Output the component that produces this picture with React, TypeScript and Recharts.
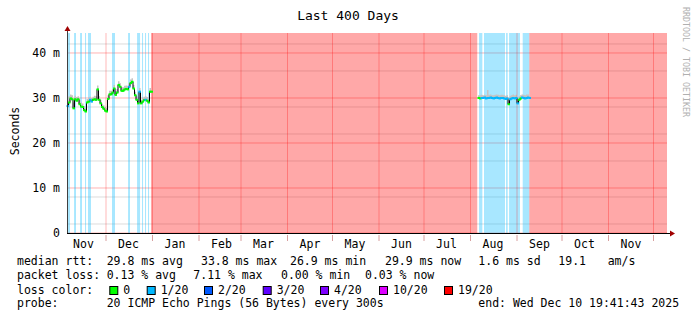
import {
  ComposedChart,
  Line,
  Area,
  XAxis,
  YAxis,
  CartesianGrid,
  ReferenceArea,
  ReferenceLine,
} from "recharts";

const FONT = "'DejaVu Sans Mono', monospace";
const TOTAL_DAYS = 400;
const Y_MAX = 44.44;

// day 0 = Nov 5 2024, end = Dec 10 2025
const monthStarts = [-4, 26, 57, 88, 116, 147, 177, 208, 238, 269, 300, 330, 361, 391];
const monthNames = ["Nov", "Dec", "Jan", "Feb", "Mar", "Apr", "May", "Jun", "Jul", "Aug", "Sep", "Oct", "Nov"];

const yTicks = [0, 10, 20, 30, 40];
const yMinor = [2, 4, 6, 8, 12, 14, 16, 18, 22, 24, 26, 28, 32, 34, 36, 38, 42];

// median rtt (ms), first block starts day 0, second block day 274
const seg1Start = 0;
const seg1Median = [
  28.2, 29.0, 29.9, 29.7, 27.7, 29.7, 29.4, 29.7, 28.6, 28.1,
  28.0, 27.3, 27.0, 29.0, 29.2, 29.6, 29.2, 29.6, 29.7, 29.6,
  31.9, 29.6, 28.8, 28.0, 27.6, 27.2, 27.0, 29.8, 30.8, 30.8,
  31.2, 32.1, 30.7, 31.2, 32.9, 32.5, 31.6, 31.6, 31.9, 32.0,
  31.9, 32.5, 33.3, 33.6, 32.1, 30.6, 29.6, 28.8, 31.4, 28.8,
  29.2, 29.5, 29.6, 29.4, 29.0, 31.4, 31.4,
];
const seg1Smoke = [
  29.6, 30.4, 30.8, 30.6, 29.0, 30.5, 30.2, 30.4, 29.6, 29.0,
  28.8, 28.2, 27.9, 29.8, 30.0, 30.3, 30.0, 30.3, 30.5, 30.4,
  32.8, 30.4, 29.6, 28.8, 28.4, 28.0, 27.8, 30.6, 31.6, 31.6,
  32.0, 32.9, 31.5, 32.0, 33.7, 33.3, 32.4, 32.4, 32.7, 32.8,
  32.7, 33.3, 34.1, 34.4, 32.9, 31.4, 30.4, 29.6, 32.2, 29.6,
  30.0, 30.3, 30.4, 30.2, 29.8, 32.2, 32.0,
];
const seg1Loss = [
  1, 0, 0, 0, 0, 0, 0, 0, 0, 0,
  0, 0, 0, 0, 0, 1, 1, 0, 0, 0,
  0, 0, 0, 0, 0, 0, 0, 0, 0, 0,
  0, 0, 0, 0, 0, 0, 0, 0, 0, 0,
  0, 1, 0, 0, 0, 0, 0, 0, 1, 0,
  0, 0, 1, 0, 0, 0, 0,
];

const seg2Start = 274;
const seg2Median = [
  30.0, 29.9, 30.0, 30.0, 30.1, 29.9, 30.0, 30.0, 30.1, 30.0,
  29.9, 30.0, 30.1, 30.0, 29.9, 30.0, 30.0, 29.9, 29.8, 29.9,
  28.6, 29.7, 29.9, 30.0, 29.9, 30.0, 28.8, 29.6, 29.9, 30.1,
  30.0, 29.9, 30.0, 30.1, 30.0,
];
const seg2Smoke = [
  30.6, 30.6, 30.7, 30.6, 30.7, 30.6, 31.8, 30.7, 30.8, 30.6,
  30.6, 30.7, 30.8, 30.7, 30.6, 30.7, 30.7, 30.6, 30.5, 30.6,
  29.6, 30.5, 30.6, 30.8, 30.6, 30.7, 29.8, 30.4, 30.6, 30.8,
  30.7, 30.6, 30.8, 30.8, 30.7,
];
const seg2Loss = [
  0, 0, 1, 1, 1, 1, 1, 1, 1, 1,
  1, 1, 1, 1, 1, 1, 1, 1, 1, 1,
  0, 1, 1, 1, 1, 1, 1, 0, 0, 1,
  1, 1, 1, 1, 1,
];

// packet loss background bands (days)
const bandFrom = [0.7, 4.7, 8.7, 12, 14, 30, 40.7, 46.7, 50, 52, 54, 56, 274.7, 278, 292.7, 294.7, 303.8, 308.2];
const bandTo = [2, 6, 10, 12.7, 16, 32, 42, 48.7, 50.7, 52.7, 54.7, 273.5, 276.9, 292, 293.8, 302, 308.2, 400];
const bandLoss = [1, 1, 1, 1, 1, 1, 1, 1, 1, 1, 1, 6, 1, 1, 1, 1, 1, 6];

const lossLabels = ["0", "1/20", "2/20", "3/20", "4/20", "10/20", "19/20"];
const lossColors = ["#00ff00", "#00b8ff", "#0059ff", "#5e00ff", "#7e00ff", "#dd00ff", "#ff0000"];

const rttStats = ["29.8 ms avg", "33.8 ms max", "26.9 ms min", "29.9 ms now", "1.6 ms sd", "19.1", "am/s"];
const lossStats = ["0.13 % avg", "7.11 % max", "0.00 % min", "0.03 % now"];
const probeText = "20 ICMP Echo Pings (56 Bytes) every 300s";
const endText = "end: Wed Dec 10 19:41:43 2025";

const labelDays = monthStarts.slice(0, monthNames.length).map((d) => d + 15);
const boundaryDays = monthStarts.filter((d) => d > 0 && d < TOTAL_DAYS);

const rows: any[] = [];
seg1Median.forEach((m, i) =>
  rows.push({ day: seg1Start + i, median: m, smoke: [m, seg1Smoke[i]], loss: seg1Loss[i] })
);
rows.push({ day: seg1Start + seg1Median.length, median: null, smoke: null, loss: 0 });
seg2Median.forEach((m, i) =>
  rows.push({ day: seg2Start + i, median: m, smoke: [m, seg2Smoke[i]], loss: seg2Loss[i] })
);

const MonthTick = (props: any) => {
  const { x, y, payload } = props;
  const i = labelDays.indexOf(payload.value);
  if (i >= 0) {
    return (
      <text x={x} y={y + 15} textAnchor="middle" fontFamily={FONT} fontSize={11.5} fill="#000">
        {monthNames[i]}
      </text>
    );
  }
  return <line x1={x} x2={x} y1={y + 2} y2={y + 8} stroke="#d8a0a0" />;
};

const LossDot = (props: any) => {
  const { cx, cy, payload, index } = props;
  if (payload.median == null || cx == null) return <g key={index} />;
  return <rect key={index} x={cx - 0.5} y={cy - 1} width={2.5} height={2} fill={lossColors[payload.loss]} />;
};

const statX1 = [106.7, 201, 290, 385, 478.3, 558.3, 607.7];
const statX2 = [106.7, 193.3, 281, 365];
const boxX = [109.3, 146.7, 204, 262.7, 320, 379, 444];

export default function App() {
  return (
    <div style={{ position: "absolute", left: 0, top: 0, width: 697, height: 321, background: "#fff" }}>
      <ComposedChart
        width={697}
        height={321}
        data={rows}
        margin={{ top: 33, right: 30, bottom: 58, left: 7 }}
      >
        <XAxis
          dataKey="day"
          type="number"
          domain={[0, TOTAL_DAYS]}
          ticks={[...labelDays, ...boundaryDays].sort((a, b) => a - b)}
          interval={0}
          tick={<MonthTick />}
          tickLine={false}
          axisLine={false}
          tickSize={0}
          tickMargin={0}
          height={30}
        />
        <YAxis
          type="number"
          domain={[0, Y_MAX]}
          ticks={yTicks}
          allowDataOverflow
          tickFormatter={(v: number) => (v === 0 ? "0" : `${v} m`)}
          tick={{ fontFamily: FONT, fontSize: 11.5, fill: "#000" }}
          tickLine={false}
          axisLine={false}
          tickSize={0}
          tickMargin={7}
          width={60}
        />
        <CartesianGrid
          horizontalValues={yMinor}
          vertical={false}
          stroke="#000"
          strokeOpacity={0.14}
        />
        <CartesianGrid
          horizontalValues={yTicks}
          vertical={false}
          stroke="#ff0000"
          strokeOpacity={0.3}
        />
        {bandFrom.map((f, i) => (
          <ReferenceArea
            key={"b" + i}
            x1={f}
            x2={bandTo[i]}
            fill={lossColors[bandLoss[i]]}
            fillOpacity={0.34}
            strokeWidth={0}
            ifOverflow="hidden"
          />
        ))}
        {boundaryDays.map((d) => (
          <ReferenceLine key={"m" + d} x={d} stroke="#ff0000" strokeOpacity={0.28} />
        ))}
        <Area
          dataKey="smoke"
          type="stepAfter"
          fill="#c4c4c4"
          fillOpacity={1}
          stroke="none"
          connectNulls={false}
          isAnimationActive={false}
        />
        <Line
          dataKey="median"
          type="stepAfter"
          stroke="#000"
          strokeWidth={1}
          dot={<LossDot />}
          activeDot={false}
          connectNulls={false}
          isAnimationActive={false}
        />
      </ComposedChart>

      <svg
        width={697}
        height={321}
        style={{ position: "absolute", left: 0, top: 0, pointerEvents: "none" }}
        fontFamily={FONT}
      >
        <text x={348} y={20} textAnchor="middle" fontSize={13} fill="#000">
          Last 400 Days
        </text>
        <text
          x={15}
          y={131}
          textAnchor="middle"
          dominantBaseline="central"
          fontSize={11.5}
          fill="#000"
          transform="rotate(-90 15 131)"
        >
          Seconds
        </text>
        <text x={683} y={7} fontSize={8.3} fill="#b0b0b0" transform="rotate(90 683 7)">
          RRDTOOL / TOBI OETIKER
        </text>

        <line x1={67.5} x2={67.5} y1={233} y2={30} stroke="#404040" />
        <polygon points="64.5,31 70.5,31 67.5,26" fill="#a00000" />
        <line x1={67} x2={670} y1={233.5} y2={233.5} stroke="#000" />
        <polygon points="670,230.5 670,236.5 675,233.5" fill="#a00000" />

        <g fontSize={11.5} fill="#000" style={{ whiteSpace: "pre" }}>
          <text x={17} y={265}>median rtt:</text>
          {rttStats.map((s, i) => (
            <text key={"r" + i} x={statX1[i]} y={265}>{s}</text>
          ))}
          <text x={17} y={279}>packet loss:</text>
          {lossStats.map((s, i) => (
            <text key={"l" + i} x={statX2[i]} y={279}>{s}</text>
          ))}
          <text x={17} y={293.5}>loss color:</text>
          {lossLabels.map((s, i) => (
            <g key={"c" + i}>
              <rect x={boxX[i] + 0.5} y={286.5} width={8} height={8} fill={lossColors[i]} stroke="#000" />
              <text x={boxX[i] + 14} y={293.5}>{s}</text>
            </g>
          ))}
          <text x={17} y={307}>probe:</text>
          <text x={106.7} y={307}>{probeText}</text>
          <text x={478.3} y={307}>{endText}</text>
        </g>
      </svg>
    </div>
  );
}
